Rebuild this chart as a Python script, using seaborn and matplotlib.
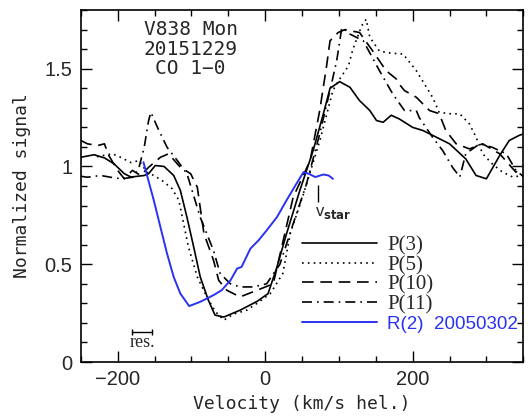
import numpy as np
import matplotlib
matplotlib.use("Agg")
import matplotlib.pyplot as plt
import seaborn as sns
from matplotlib.ticker import MultipleLocator

# Données (vitesse km/s, signal normalisé)
v_p3 = [-250, -232, -218, -205, -191, -182, -164, -158, -149, -137, -124, -115, -106, -97, -88,
        -77, -68, -56, -34, -11, 4, 16, 29, 47, 65, 79, 88, 101, 115, 128, 142, 151, 160, 171,
        182, 200, 214, 232, 250, 272, 286, 300, 318, 331, 345, 351]
s_p3 = [1.047, 1.06, 1.044, 1.014, 0.963, 0.946, 0.954, 0.963, 1.005, 1.0, 0.954, 0.878, 0.74,
        0.59, 0.435, 0.316, 0.24, 0.23, 0.265, 0.31, 0.35, 0.486, 0.656, 0.877, 1.08, 1.27, 1.40,
        1.434, 1.405, 1.337, 1.286, 1.235, 1.226, 1.262, 1.243, 1.20, 1.184, 1.15, 1.116, 1.039,
        0.954, 0.937, 1.056, 1.133, 1.16, 1.167]

v_p5 = [-228, -207, -196, -182, -171, -160, -151, -140, -126, -117, -104, -92, -79, -68, -56,
        -43, -25, -11, 7, 24, 34, 52, 74, 92, 101, 113, 119, 131, 137, 142, 155, 170, 187, 205,
        227, 236, 250, 264, 277, 286, 295, 308, 322, 336, 349]
s_p5 = [1.05, 1.065, 1.047, 1.02, 1.03, 0.97, 0.954, 0.929, 0.886, 0.827, 0.588, 0.435, 0.333,
        0.26, 0.214, 0.245, 0.265, 0.30, 0.35, 0.453, 0.656, 0.86, 1.13, 1.39, 1.447, 1.515,
        1.60, 1.72, 1.753, 1.66, 1.59, 1.58, 1.575, 1.49, 1.354, 1.277, 1.27, 1.269, 1.218,
        1.15, 1.065, 1.013, 0.971, 0.946, 0.954]

v_p10 = [-250, -241, -227, -218, -212, -200, -191, -180, -169, -158, -142, -131, -115, -101,
         -92, -83, -70, -63, -52, -34, -11, 11, 38, 61, 74, 83, 88, 99, 108, 128, 146, 164, 178,
         182, 189, 205, 223, 236, 245, 259, 277, 295, 318, 340, 351]
s_p10 = [1.133, 1.116, 1.107, 1.116, 1.056, 0.98, 0.937, 0.98, 0.954, 0.996, 1.047, 1.065,
         0.996, 0.963, 0.894, 0.657, 0.52, 0.418, 0.367, 0.333, 0.367, 0.40, 0.843, 1.03, 1.286,
         1.506, 1.643, 1.685, 1.70, 1.685, 1.59, 1.49, 1.447, 1.42, 1.388, 1.354, 1.286, 1.27,
         1.184, 1.116, 1.09, 1.116, 1.065, 0.971, 1.005]

v_p11 = [-250, -241, -223, -205, -194, -178, -171, -164, -158, -155, -146, -133, -119, -106,
         -88, -70, -61, -47, -34, -16, 2, 20, 38, 56, 74, 88, 97, 104, 115, 133, 155, 173, 189,
         205, 209, 227, 241, 254, 264, 272, 291, 308, 327, 340, 351]
s_p11 = [0.95, 0.945, 0.954, 0.942, 0.937, 0.946, 0.996, 1.098, 1.235, 1.277, 1.20, 1.098, 1.03,
         0.963, 0.74, 0.57, 0.452, 0.40, 0.384, 0.384, 0.40, 0.50, 0.707, 0.91, 1.167, 1.39,
         1.54, 1.711, 1.677, 1.643, 1.49, 1.371, 1.286, 1.286, 1.25, 1.15, 1.08, 0.996, 0.946,
         1.065, 1.116, 1.098, 1.065, 0.98, 0.946]

v_r2 = [-165, -151, -142, -133, -124, -115, -103, -88, -70, -59, -47, -38, -32, -20, -9, 2, 16,
        29, 41, 52, 59, 68, 79, 86, 92]
s_r2 = [1.022, 0.827, 0.69, 0.554, 0.435, 0.35, 0.286, 0.308, 0.342, 0.367, 0.418, 0.478,
        0.486, 0.58, 0.622, 0.673, 0.741, 0.827, 0.903, 0.971, 0.963, 0.946, 0.959, 0.954, 0.937]

v_star = 71
res_bar = [-180, -154]

sns.set_style("ticks")
plt.rcParams['font.family'] = ['Liberation Sans', 'DejaVu Sans']
bleu = '#2a32f2'

fig = plt.figure(figsize=(5.28, 4.19), dpi=100)
ax = fig.add_axes([0.153, 0.136, 0.838, 0.840])

sns.lineplot(x=v_p3, y=s_p3, ax=ax, color='k', lw=1.2, sort=False, estimator=None, label='P(3)')
sns.lineplot(x=v_p5, y=s_p5, ax=ax, color='k', lw=1.2, sort=False, estimator=None,
             linestyle=(0, (1, 2.5)), label='P(5)')
sns.lineplot(x=v_p10, y=s_p10, ax=ax, color='k', lw=1.2, sort=False, estimator=None,
             linestyle=(0, (7, 4)), label='P(10)')
sns.lineplot(x=v_p11, y=s_p11, ax=ax, color='k', lw=1.2, sort=False, estimator=None,
             linestyle=(0, (6, 3, 1, 3)), label='P(11)')
sns.lineplot(x=v_r2, y=s_r2, ax=ax, color=bleu, lw=1.4, sort=False, estimator=None,
             label='R(2)  20050302')

# Axes
ax.set_xlim(-250, 350)
ax.set_ylim(0, 1.8)
ax.set_xticks([-200, 0, 200])
ax.set_xticklabels(['\u2212200', '0', '200'])
ax.set_yticks([0, 0.5, 1, 1.5])
ax.set_yticklabels(['0', '0.5', '1', '1.5'])
ax.xaxis.set_minor_locator(MultipleLocator(50))
ax.yaxis.set_minor_locator(MultipleLocator(0.1))
ax.tick_params(which='both', direction='in', top=True, right=True, width=1, color='k')
ax.tick_params(which='major', length=8, labelsize=14.5, pad=6)
ax.tick_params(which='minor', length=4)
for sp in ax.spines.values():
    sp.set_linewidth(1.2)
    sp.set_color('k')

ax.set_xlabel("Velocity (km/s hel.)", fontsize=13, family='DejaVu Sans Mono', labelpad=4)
ax.set_ylabel("Normalized signal", fontsize=13, family='DejaVu Sans Mono', labelpad=10)

# Annotations
ax.text(-101, 1.60, "V838 Mon\n20151229\nCO 1\u22120", ha='center', va='center',
        fontsize=14, family='DejaVu Sans Mono', linespacing=1.05)
ax.vlines(v_star, 0.818, 0.903, color='k', lw=1)
ax.text(v_star - 4, 0.76, r"v$_{\mathbf{star}}$", ha='left', va='center', fontsize=12)
ax.plot(res_bar, [0.155, 0.155], color='k', lw=1, marker='|', ms=4)
ax.text(np.mean(res_bar), 0.10, "res.", ha='center', va='center', fontsize=13,
        family='Liberation Serif')

# Légende
handles, labels = ax.get_legend_handles_labels()
leg = ax.legend(handles, labels, loc='upper left', bbox_to_anchor=(0.5, 0.358), frameon=False,
                handlelength=3.6, handletextpad=0.5, labelspacing=0.0, borderpad=0,
                borderaxespad=0, prop={'family': 'Liberation Serif', 'size': 15})
for t in leg.get_texts():
    if t.get_text().startswith('R'):
        t.set_color(bleu)
        t.set_family('Liberation Sans')
        t.set_fontsize(13.5)

fig.savefig("out.png", dpi=100)
